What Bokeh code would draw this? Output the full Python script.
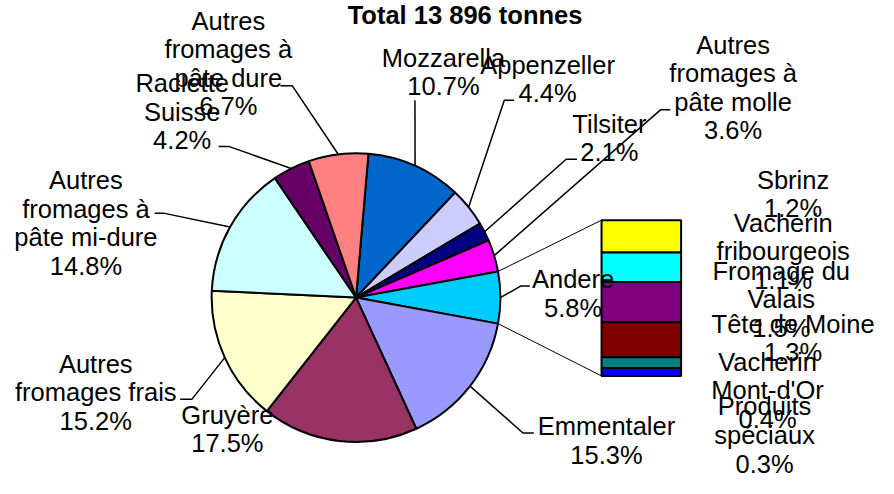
import numpy as np
from bokeh.plotting import figure
from bokeh.models import Range1d, ColumnDataSource
from bokeh.core.properties import value
from bokeh.embed import file_html
from bokeh.resources import INLINE

# ---------------- data ----------------
title = "Total 13 896 tonnes"
pie_labels = ["Mozzarella", "Appenzeller", "Tilsiter", "Autres\nfromages à\npâte molle",
              "Andere", "Emmentaler", "Gruyère", "Autres\nfromages frais",
              "Autres\nfromages à\npâte mi-dure", "Raclette\nSuisse", "Autres\nfromages à\npâte dure"]
pie_values = [10.7, 4.4, 2.1, 3.6, 5.8, 15.3, 17.5, 15.2, 14.8, 4.2, 6.7]
pie_colors = ["#0066CC", "#CCCCFF", "#000080", "#FF00FF", "#00CCFF", "#9999FF",
              "#993366", "#FFFFCC", "#CCFFFF", "#660066", "#FF8080"]
other_index = 4  # "Andere" is broken out into the bar

bar_labels = ["Sbrinz", "Vacherin\nfribourgeois", "Fromage du\nValais", "Tête de Moine",
              "Vacherin\nMont-d'Or", "Produits\nspéciaux"]
bar_values = [1.2, 1.1, 1.5, 1.3, 0.4, 0.3]
bar_colors = ["#FFFF00", "#00FFFF", "#800080", "#800000", "#008080", "#0000FF"]

# ---------------- layout (design units = 894 x 494 drawing) ----------------
FONT = value("Liberation Sans")
W, H = 878, 478
DW, DH = 894, 494
kx, ky = W / DW, H / DH
FS = "25.5px"
LH = 1.02

def Y(sy):
    return DH - sy

cx, cy, R = 362, Y(307), 147
Ry = R * kx / ky  # vertical radius in design units (circle on screen)
bar_left, bar_right, bar_top, bar_bottom = 612, 693, Y(227), Y(388)

# label block centres (design px from top-left)
pie_label_pos = [(451, 74), (557, 81), (620, 142), (746, 90), (583, 303), (617, 455),
                 (231, 443), (97, 405), (87, 230), (185, 115), (232, 65)]
bar_label_pos = [(807, 200), (797, 259), (795, 309), (807, 349), (781, 403), (778, 449)]
# leader elbows, None = no leader
leader_pts = [[(422, 103)], [(523, 103), (513, 103)], [(587, 164), (576, 164)],
              [(682, 113), (672, 113)], [(539, 295), (530, 295)], [(543, 447), (532, 447)],
              None, [(183, 412), (195, 412)], [(157, 220), (167, 220)],
              [(222, 151), (233, 151)], [(285, 88), (297, 88)]]

p = figure(width=W, height=H, output_backend="svg", toolbar_location=None,
           x_range=Range1d(0, DW), y_range=Range1d(0, DH),
           x_axis_location=None, y_axis_location=None, min_border=0)
p.grid.visible = False
p.outline_line_color = None
p.background_fill_color = "white"
p.border_fill_color = "white"

# ---------------- pie ----------------
vals = np.array(pie_values)
deg = vals / vals.sum() * 360.0
# the broken-out slice is centred on 0 deg (pointing to the bar); slices run clockwise
start0 = deg[other_index] / 2 + deg[:other_index].sum()
ends = start0 - np.concatenate([[0], np.cumsum(deg)[:-1]])
starts = ends - deg
mids = (starts + ends) / 2
src = ColumnDataSource(dict(s=np.radians(starts), e=np.radians(ends), c=pie_colors))
p.wedge(x=cx, y=cy, radius=R, start_angle="s", end_angle="e", fill_color="c",
        line_color="black", line_width=2, source=src)

# ---------------- bar of the "Andere" slice ----------------
bvals = np.array(bar_values)
scale = (bar_top - bar_bottom) / bvals.sum()
tops = bar_top - np.concatenate([[0], np.cumsum(bvals)[:-1]]) * scale
bots = tops - bvals * scale
p.quad(left=bar_left, right=bar_right, top=tops, bottom=bots, fill_color=bar_colors,
       line_color="black", line_width=2)

# connector lines between the slice and the bar
a_hi, a_lo = np.radians(ends[other_index]), np.radians(starts[other_index])
p.segment(x0=[cx + R * np.cos(a_hi), cx + R * np.cos(a_lo)],
          y0=[cy + Ry * np.sin(a_hi), cy + Ry * np.sin(a_lo)],
          x1=[bar_left, bar_left], y1=[bar_top, bar_bottom], line_color="black", line_width=1)

# ---------------- leaders ----------------
for i, pts in enumerate(leader_pts):
    if pts is None:
        continue
    a = np.radians(mids[i])
    xs = [q[0] for q in pts] + [cx + R * np.cos(a)]
    ys = [Y(q[1]) for q in pts] + [cy + Ry * np.sin(a)]
    p.line(xs, ys, line_color="black", line_width=1.5)

# ---------------- labels ----------------
pct = lambda v: f"{v:.1f}%"
txt = [f"{l}\n{pct(v)}" for l, v in zip(pie_labels, pie_values)]
p.text(x=[q[0] for q in pie_label_pos], y=[Y(q[1]) for q in pie_label_pos], text=txt,
       text_align="center", text_baseline="middle", text_font=FONT, text_font_size=FS,
       text_line_height=LH, text_color="black")
txt2 = [f"{l}\n{pct(v)}" for l, v in zip(bar_labels, bar_values)]
p.text(x=[q[0] for q in bar_label_pos], y=[Y(q[1]) for q in bar_label_pos], text=txt2,
       text_align="center", text_baseline="middle", text_font=FONT, text_font_size=FS,
       text_line_height=LH, text_color="black")

p.text(x=[473], y=[Y(1)], text=[title], text_align="center", text_baseline="top",
       text_font=FONT, text_font_size="25.5px", text_font_style="bold", text_color="black")

open("out.html", "w").write(file_html(p, INLINE))
